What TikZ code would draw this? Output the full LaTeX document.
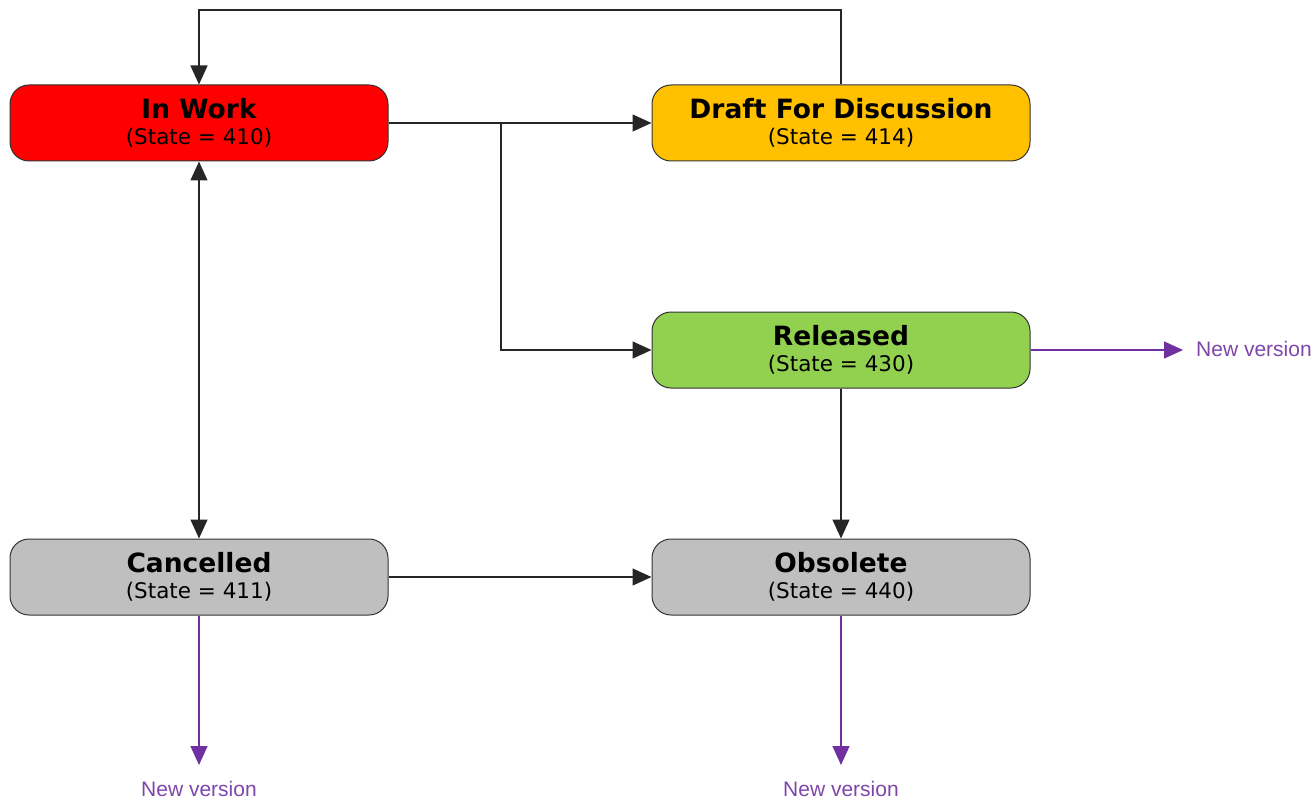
\documentclass[tikz,border=0pt]{standalone}
\usepackage{fontspec}
\setmainfont{DejaVu Sans}
\newfontfamily\labelfont{Liberation Sans}
\usetikzlibrary{arrows.meta}

\definecolor{workred}{HTML}{FF0000}
\definecolor{draftorange}{HTML}{FFC000}
\definecolor{releasegreen}{HTML}{92D050}
\definecolor{stategray}{HTML}{BFBFBF}
\definecolor{versionpurple}{HTML}{7030A0}

\tikzset{
  statebox/.style={draw=black!80, line width=1pt, rounded corners=19pt,
    minimum width=378pt, minimum height=76pt, inner sep=0pt, align=center,
    font=\fontsize{21.5}{26}\selectfont},
  flow/.style={draw=black!85, line width=1.4pt, -{Triangle[length=19pt, width=17pt]}},
  newver/.style={draw=versionpurple!80, line width=1.4pt,
    -{Triangle[length=19pt, width=17pt]}, color=versionpurple},
  vertext/.style={text=versionpurple!90, font=\labelfont\fontsize{21}{24}\selectfont}
}
\newcommand{\statetext}[2]{%
  {\fontsize{26.5}{26}\selectfont\bfseries #1}\\#2}

\begin{document}
\begin{tikzpicture}[x=1pt, y=-1pt]
	\useasboundingbox (0,0) rectangle (1313,802);

	\node [statebox, fill=workred] (inwork) at (199,123) {\statetext{In Work}{(State = 410)}};
	\node [statebox, fill=draftorange] (draft) at (841,123) {\statetext{Draft For Discussion}{(State = 414)}};
	\node [statebox, fill=releasegreen] (released) at (841,350) {\statetext{Released}{(State = 430)}};
	\node [statebox, fill=stategray] (cancelled) at (199,577) {\statetext{Cancelled}{(State = 411)}};
	\node [statebox, fill=stategray] (obsolete) at (841,577) {\statetext{Obsolete}{(State = 440)}};

	\coordinate (branch) at (501,123);

	\draw [flow] (draft.north) |- (199,10) -- (inwork.north);
	\draw [flow] (inwork.east) -- (draft.west);
	\draw [flow] (branch) |- (released.west);
	\draw [flow, {Triangle[length=19pt, width=17pt]}-{Triangle[length=19pt, width=17pt]}] (inwork.south) -- (cancelled.north);
	\draw [flow] (released.south) -- (obsolete.north);
	\draw [flow] (cancelled.east) -- (obsolete.west);

	% new version outputs
	\coordinate (relnew) at (1183,350);
	\coordinate (cannew) at (199,765);
	\coordinate (obsnew) at (841,765);
	\draw [newver] (released.east) -- (relnew);
	\draw [newver] (cancelled.south) -- (cannew);
	\draw [newver] (obsolete.south) -- (obsnew);
	\node [vertext, anchor=west, inner sep=0pt] (relver) at (1196,349) {New version};
	\node [vertext, anchor=base] (canver) at (199,796) {New version};
	\node [vertext, anchor=base] (obsver) at (841,796) {New version};
\end{tikzpicture}
\end{document}
